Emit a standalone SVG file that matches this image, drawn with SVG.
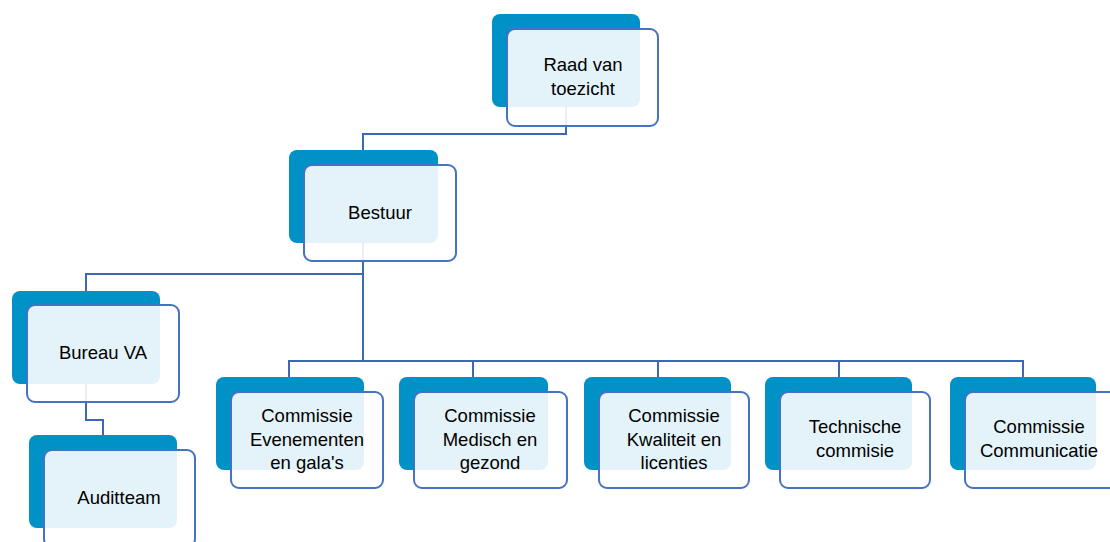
<svg xmlns="http://www.w3.org/2000/svg" width="1110" height="542" viewBox="0 0 1110 542">
<style>
.back{fill:#0091c6}
.front{fill:#fff;fill-opacity:0.89;stroke:#4472c4;stroke-width:2}
.conn{fill:none;stroke:#3f67b8;stroke-width:2}
text{font-family:"Liberation Sans",Arial,sans-serif;font-size:18.5px;fill:#000;text-anchor:middle}
</style>
<rect width="1110" height="542" fill="#fff"/>
<g id="connectors">
<path class="conn" d="M566 107 V134 H363 V150"/>
<path class="conn" d="M363 243 V361"/>
<path class="conn" d="M86 291 V274 H363"/>
<path class="conn" d="M289 377 V361 H1023 V377"/>
<path class="conn" d="M473 361 V377"/>
<path class="conn" d="M658 361 V377"/>
<path class="conn" d="M839 361 V377"/>
<path class="conn" d="M86 384 V420 H103 V435"/>
</g>
<g id="raad">
<rect class="back" x="492" y="14" width="148" height="93" rx="8"/>
<rect class="front" x="507" y="29" width="151" height="97" rx="8"/>
<text x="583" y="71">Raad van</text>
<text x="583" y="95">toezicht</text>
</g>
<g id="bestuur">
<rect class="back" x="289" y="150" width="149" height="93" rx="8"/>
<rect class="front" x="304" y="165" width="152" height="96" rx="8"/>
<text x="380" y="219">Bestuur</text>
</g>
<g id="bureau">
<rect class="back" x="12" y="291" width="148" height="93" rx="8"/>
<rect class="front" x="27" y="305" width="152" height="97" rx="8"/>
<text x="103" y="359">Bureau VA</text>
</g>
<g id="auditteam">
<rect class="back" x="29" y="435" width="148" height="93" rx="8"/>
<rect class="front" x="44" y="450" width="151" height="97" rx="8"/>
<text x="119" y="504">Auditteam</text>
</g>
<g id="evenementen">
<rect class="back" x="216" y="377" width="148" height="93" rx="8"/>
<rect class="front" x="231" y="392" width="152" height="96" rx="8"/>
<text x="307" y="422">Commissie</text>
<text x="307" y="446">Evenementen</text>
<text x="307" y="469">en gala's</text>
</g>
<g id="medisch">
<rect class="back" x="399" y="377" width="149" height="93" rx="8"/>
<rect class="front" x="414" y="392" width="153" height="96" rx="8"/>
<text x="490" y="422">Commissie</text>
<text x="490" y="446">Medisch en</text>
<text x="490" y="469">gezond</text>
</g>
<g id="kwaliteit">
<rect class="back" x="584" y="377" width="147" height="93" rx="8"/>
<rect class="front" x="599" y="392" width="150" height="96" rx="8"/>
<text x="674" y="422">Commissie</text>
<text x="674" y="446">Kwaliteit en</text>
<text x="674" y="469">licenties</text>
</g>
<g id="technische">
<rect class="back" x="765" y="377" width="147" height="93" rx="8"/>
<rect class="front" x="780" y="392" width="150" height="96" rx="8"/>
<text x="855" y="433">Technische</text>
<text x="855" y="457">commisie</text>
</g>
<g id="communicatie">
<rect class="back" x="950" y="377" width="146" height="93" rx="8"/>
<rect class="front" x="965" y="392" width="152" height="96" rx="8"/>
<text x="1039" y="433">Commissie</text>
<text x="1039" y="457">Communicatie</text>
</g>
</svg>
